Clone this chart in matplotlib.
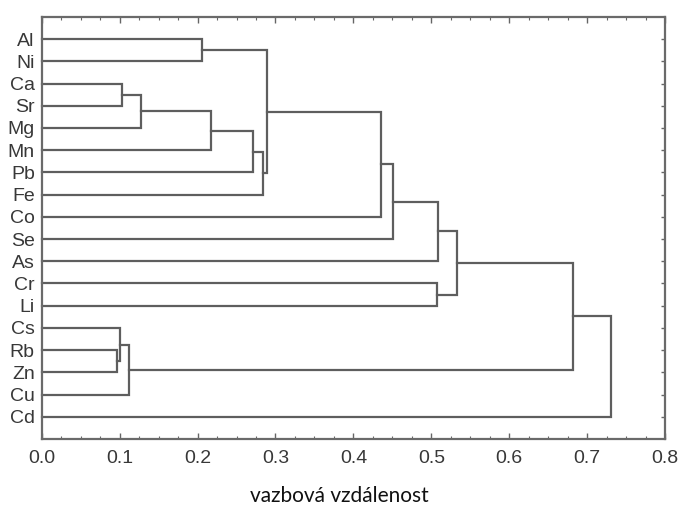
import numpy as np
import matplotlib.pyplot as plt
from matplotlib.ticker import MultipleLocator, FormatStrFormatter

# leaf labels, top to bottom
leaves = ["Al", "Ni", "Ca", "Sr", "Mg", "Mn", "Pb", "Fe", "Co",
          "Se", "As", "Cr", "Li", "Cs", "Rb", "Zn", "Cu", "Cd"]

# merges: (node_a, node_b) -> new node id = 18, 19, ...
merge_a = [0, 2, 19, 20, 21, 22, 18, 24, 25, 26, 11, 27, 14, 13, 31, 29, 33]
merge_b = [1, 3, 4, 5, 6, 7, 23, 8, 9, 10, 12, 28, 15, 30, 16, 32, 17]
heights = [0.206, 0.103, 0.128, 0.217, 0.271, 0.284, 0.289, 0.436, 0.451,
           0.509, 0.507, 0.533, 0.096, 0.100, 0.112, 0.682, 0.730]

# -----------------------------------------------------------------------------
# node positions: leaves at 1..n, merged nodes at the midpoint of children
# -----------------------------------------------------------------------------
n = len(leaves)
pos_y = {i: i + 1 for i in range(n)}
pos_x = {i: 0.0 for i in range(n)}

fig = plt.figure(figsize=(6.78, 5.13), dpi=100)
ax = fig.add_axes([0.0615, 0.1443, 0.9195, 0.8227])

line_col = "#5e5e5e"
for k, (a, b, h) in enumerate(zip(merge_a, merge_b, heights)):
    node = n + k
    ya, yb = pos_y[a], pos_y[b]
    ax.plot([pos_x[a], h, h, pos_x[b]], [ya, ya, yb, yb],
            color=line_col, lw=1.6, solid_joinstyle="miter", clip_on=False)
    pos_y[node] = (ya + yb) / 2
    pos_x[node] = h

ax.set_xlim(0, 0.8)
ax.set_ylim(n + 1, 0)

ax.xaxis.set_major_locator(MultipleLocator(0.1))
ax.xaxis.set_minor_locator(MultipleLocator(0.025))
ax.xaxis.set_major_formatter(FormatStrFormatter("%.1f"))
ax.tick_params(axis="x", which="both", direction="in", top=True, bottom=True,
               colors="#666666", labelcolor="#383838", labelsize=14, pad=8)
ax.tick_params(axis="x", which="major", length=4, width=1)
ax.tick_params(axis="x", which="minor", length=2.5, width=0.8)

ax.set_yticks(range(1, n + 1))
ax.set_yticklabels(leaves)
ax.tick_params(axis="y", direction="in", left=False, right=True, length=3,
               width=1, colors="#666666", labelcolor="#383838",
               labelsize=14, pad=5)

for lab in ax.get_xticklabels() + ax.get_yticklabels():
    lab.set_family("Liberation Sans")

for sp in ax.spines.values():
    sp.set_color("#6a6a6a")
    sp.set_linewidth(1.6)

fig.text(0.5, 0.033, "vazbová vzdálenost", ha="center", va="center",
         fontsize=15, family="Lato", color="#111111")

fig.savefig("out.png", dpi=100)
